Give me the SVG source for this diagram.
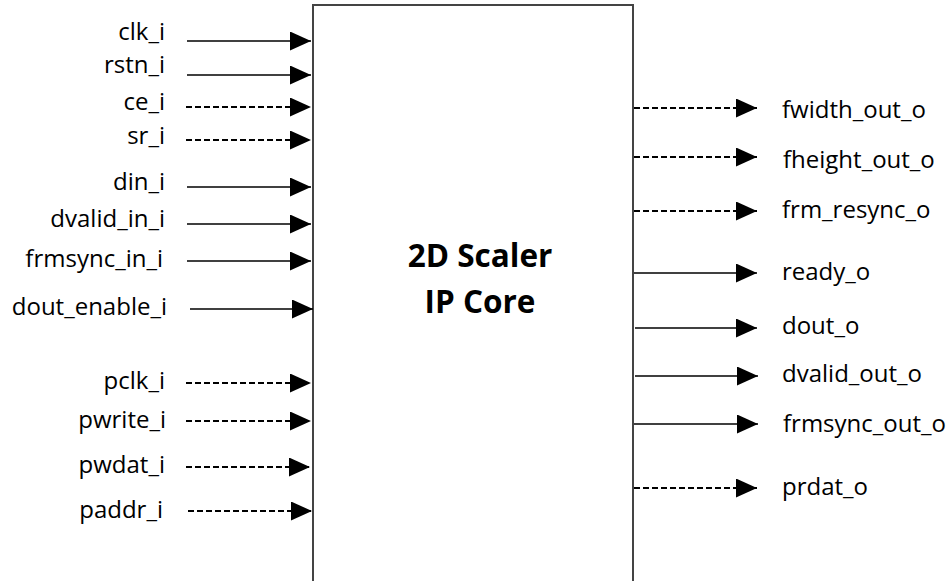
<svg xmlns="http://www.w3.org/2000/svg" width="951" height="581" viewBox="0 0 951 581">
<style>
.lbl{font-family:"Open Sans","Liberation Sans",sans-serif;font-size:24px;fill:#000}
.l{text-anchor:end}
.title{font-family:"Open Sans","Liberation Sans",sans-serif;font-size:31.5px;font-weight:bold;text-anchor:middle;fill:#000}
.s{stroke:#000;stroke-width:1.6;fill:none;marker-end:url(#ah)}
.d{stroke:#000;stroke-width:2.2;fill:none;stroke-dasharray:6 3;marker-end:url(#ah)}
</style>
<defs>
<marker id="ah" markerUnits="userSpaceOnUse" markerWidth="21" markerHeight="19" refX="21" refY="9.5" orient="auto">
<path d="M0,0 L21,9.5 L0,19 z" fill="#000"/>
</marker>
</defs>
<rect width="951" height="581" fill="#fff"/>
<g id="core">
<rect x="313" y="5" width="320" height="600" fill="#fff" stroke="#444" stroke-width="2"/>
<text class="title" x="480" y="267">2D Scaler</text>
<text class="title" x="480" y="313">IP Core</text>
</g>
<g id="inputs">
<text class="lbl l" x="165" y="40">clk_i</text>
<text class="lbl l" x="165" y="73">rstn_i</text>
<text class="lbl l" x="165" y="110">ce_i</text>
<text class="lbl l" x="165" y="144">sr_i</text>
<text class="lbl l" x="165" y="190">din_i</text>
<text class="lbl l" x="165" y="227">dvalid_in_i</text>
<text class="lbl l" x="163" y="267">frmsync_in_i</text>
<text class="lbl l" x="167" y="315">dout_enable_i</text>
<text class="lbl l" x="165" y="389">pclk_i</text>
<text class="lbl l" x="166" y="428">pwrite_i</text>
<text class="lbl l" x="165" y="473">pwdat_i</text>
<text class="lbl l" x="163" y="518">paddr_i</text>
</g>
<g id="outputs">
<text class="lbl" x="782" y="118">fwidth_out_o</text>
<text class="lbl" x="783" y="168">fheight_out_o</text>
<text class="lbl" x="782" y="218">frm_resync_o</text>
<text class="lbl" x="782" y="280">ready_o</text>
<text class="lbl" x="782" y="334">dout_o</text>
<text class="lbl" x="782" y="382">dvalid_out_o</text>
<text class="lbl" x="783" y="432">frmsync_out_o</text>
<text class="lbl" x="782" y="495">prdat_o</text>
</g>
<g id="connectors">
<line class="s" x1="187" y1="41" x2="311" y2="41"/>
<line class="s" x1="187" y1="75" x2="311" y2="75"/>
<line class="d" x1="186" y1="107" x2="311" y2="107"/>
<line class="d" x1="186" y1="140" x2="311" y2="140"/>
<line class="s" x1="187" y1="187" x2="311" y2="187"/>
<line class="s" x1="187" y1="224" x2="311" y2="224"/>
<line class="s" x1="187" y1="261" x2="311" y2="261"/>
<line class="s" x1="190" y1="309" x2="313" y2="309"/>
<line class="d" x1="186" y1="383" x2="311" y2="383"/>
<line class="d" x1="186" y1="421" x2="311" y2="421"/>
<line class="d" x1="186" y1="467" x2="310" y2="467"/>
<line class="d" x1="188" y1="511" x2="312" y2="511"/>
<line class="d" x1="634" y1="108" x2="757" y2="108"/>
<line class="d" x1="634" y1="157" x2="757" y2="157"/>
<line class="d" x1="634" y1="211" x2="757" y2="211"/>
<line class="s" x1="634" y1="273" x2="757" y2="273"/>
<line class="s" x1="635" y1="328" x2="757" y2="328"/>
<line class="s" x1="635" y1="376" x2="758" y2="376"/>
<line class="s" x1="634" y1="424" x2="758" y2="424"/>
<line class="d" x1="634" y1="488" x2="757" y2="488"/>
</g>
</svg>
